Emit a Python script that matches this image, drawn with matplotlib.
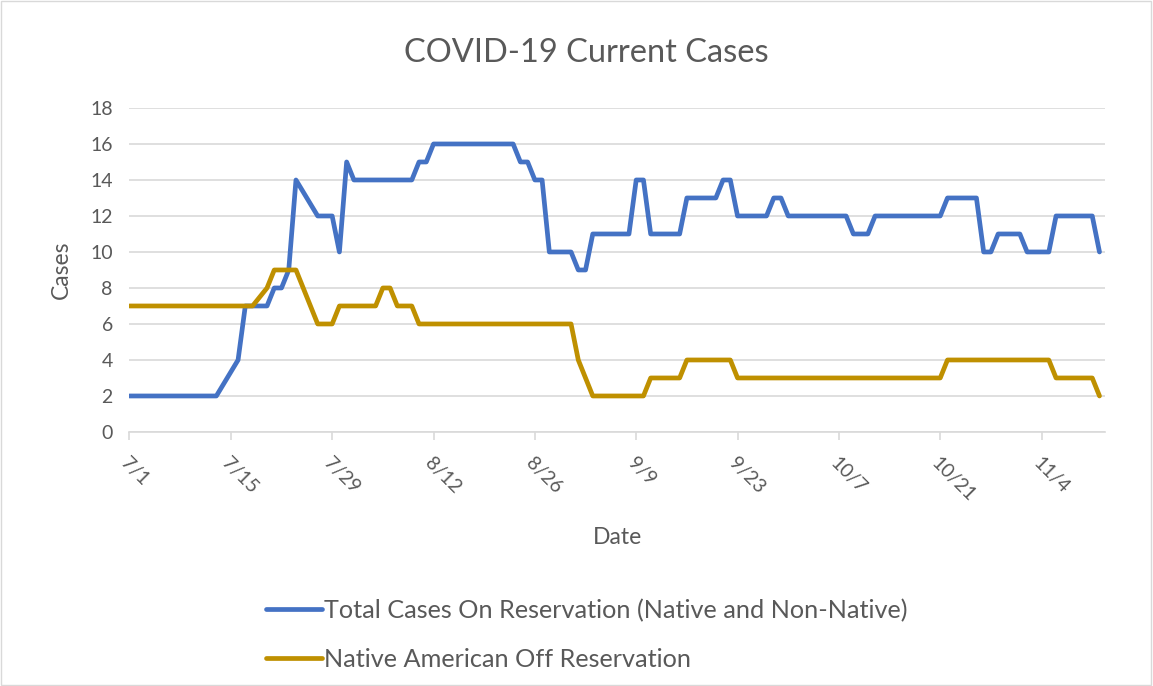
import pandas as pd
import matplotlib.pyplot as plt
from matplotlib.patches import Rectangle

# Total cases on reservation (dates where the line changes direction)
on_dates = ['7/1', '7/13', '7/16', '7/17', '7/20', '7/21', '7/22', '7/23', '7/24', '7/27',
            '7/29', '7/30', '7/31', '8/1', '8/9', '8/10', '8/11', '8/12', '8/23', '8/24',
            '8/25', '8/26', '8/27', '8/28', '8/31', '9/1', '9/2', '9/3', '9/8', '9/9',
            '9/10', '9/11', '9/15', '9/16', '9/20', '9/21', '9/22', '9/23', '9/27', '9/28',
            '9/29', '9/30', '10/8', '10/9', '10/11', '10/12', '10/21', '10/22', '10/26', '10/27',
            '10/28', '10/29', '11/1', '11/2', '11/5', '11/6', '11/11', '11/12']
on_cases = [2, 2, 4, 7, 7, 8, 8, 9, 14, 12,
            12, 10, 15, 14, 14, 15, 15, 16, 16, 15,
            15, 14, 14, 10, 10, 9, 9, 11, 11, 14,
            14, 11, 11, 13, 13, 14, 14, 12, 12, 13,
            13, 12, 12, 11, 11, 12, 12, 13, 13, 10,
            10, 11, 11, 10, 10, 12, 12, 10]

# Native American off reservation
off_dates = ['7/1', '7/18', '7/20', '7/21', '7/24', '7/27', '7/29', '7/30', '8/4', '8/5',
             '8/6', '8/7', '8/9', '8/10', '8/31', '9/1', '9/3', '9/10', '9/11', '9/15',
             '9/16', '9/22', '9/23', '10/21', '10/22', '11/5', '11/6', '11/11', '11/12']
off_cases = [7, 7, 8, 9, 9, 6, 6, 7, 7, 8,
             8, 7, 7, 6, 6, 4, 2, 2, 3, 3,
             4, 4, 3, 3, 4, 4, 3, 3, 2]

tick_labels = ['7/1', '7/15', '7/29', '8/12', '8/26', '9/9', '9/23', '10/7', '10/21', '11/4']


def to_dt(lst):
    return pd.to_datetime([d + '/2020' for d in lst], format='%m/%d/%Y')


gray = '#595959'
grid = '#d9d9d9'

fig = plt.figure(figsize=(11.53, 6.86), dpi=100)
plt.rcParams['font.family'] = ['Lato', 'DejaVu Sans']
ax = fig.add_axes([0.1123, 0.3703, 0.846, 0.4723])

ax.plot(to_dt(on_dates), on_cases, color='#4472C4', lw=3.4, solid_joinstyle='round',
        solid_capstyle='round', label='Total Cases On Reservation (Native and Non-Native)')
ax.plot(to_dt(off_dates), off_cases, color='#BF9000', lw=3.4, solid_joinstyle='round',
        solid_capstyle='round', label='Native American Off Reservation')

ax.set_ylim(0, 18)
ax.set_yticks(range(0, 19, 2))
ax.set_xlim(pd.Timestamp('2020-07-01'), pd.Timestamp('2020-11-12') + pd.Timedelta(hours=18))
ax.set_xticks(to_dt(tick_labels))
ax.set_xticklabels(tick_labels, rotation=-45, ha='left', va='top', rotation_mode='anchor')

ax.grid(axis='y', color=grid, lw=1.2)
ax.set_axisbelow(True)
for s in ['top', 'right', 'left']:
    ax.spines[s].set_visible(False)
ax.spines['bottom'].set_color(grid)
ax.spines['bottom'].set_linewidth(1.2)
ax.tick_params(axis='y', length=0, labelsize=14, colors=gray, pad=12)
ax.tick_params(axis='x', length=6, color=grid, width=1.2, labelsize=14, labelcolor=gray, pad=10)

fig.text(586 / 1153, 1 - 53 / 686, 'COVID-19 Current Cases', fontsize=23.5, color=gray,
         ha='center', va='center')
ax.set_ylabel('Cases', fontsize=16.5, color=gray, labelpad=13)
ax.set_xlabel('Date', fontsize=16.5, color=gray, labelpad=16)

leg = fig.legend(loc='upper left', bbox_to_anchor=(0.222, 0.142), frameon=False,
                 fontsize=18.2, handlelength=2.2, handletextpad=0.1, labelspacing=1.03,
                 borderaxespad=0)
for t in leg.get_texts():
    t.set_color(gray)

fig.patches.append(Rectangle((0.001, 0.001), 0.997, 0.997, transform=fig.transFigure,
                             fill=False, edgecolor=grid, lw=1))

fig.savefig('out.png', dpi=100)
